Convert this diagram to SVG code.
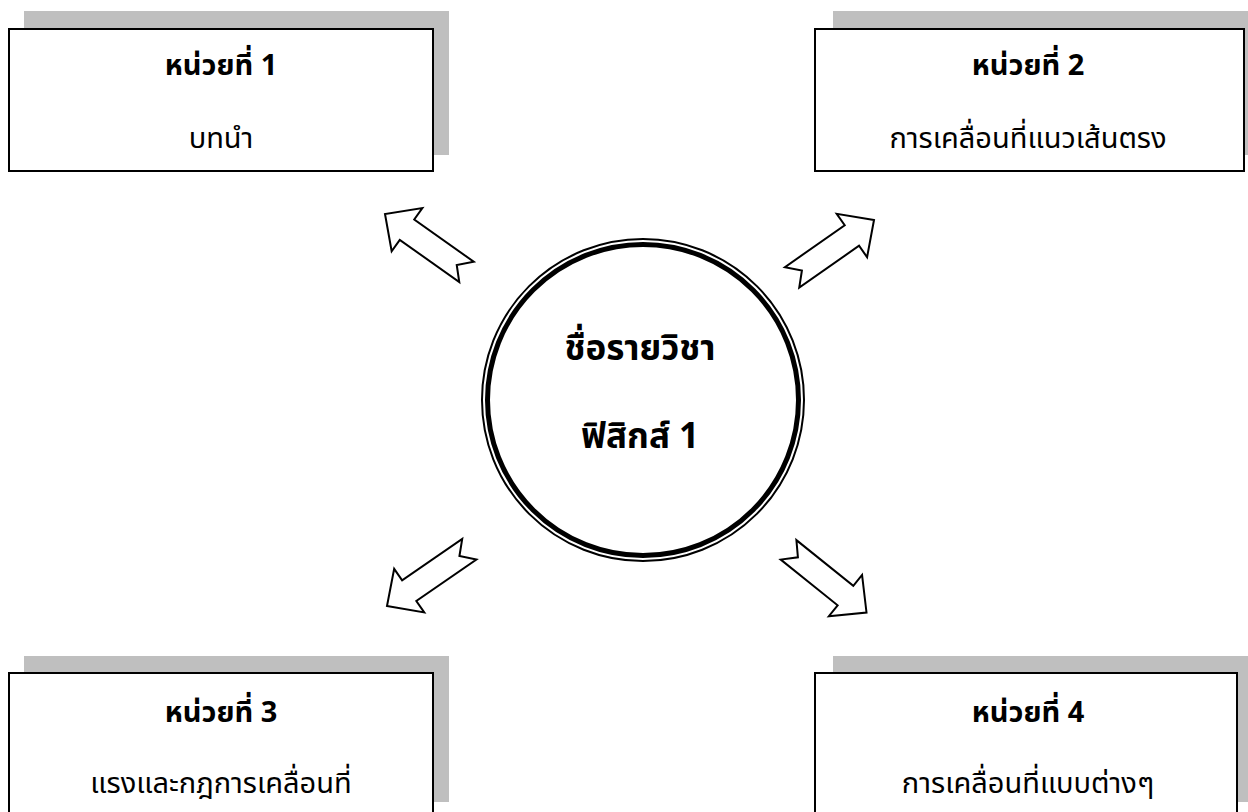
<svg xmlns="http://www.w3.org/2000/svg" xmlns:xlink="http://www.w3.org/1999/xlink" width="1248" height="812" viewBox="0 0 1248 812">
<style>
.shadow{fill:#bfbfbf;stroke:none}
.box{fill:#ffffff;stroke:#000000;stroke-width:2}
.t{font-family:"Noto Sans Thai","Noto Sans","Liberation Sans",sans-serif;fill:#000;text-anchor:middle}
.title{font-size:29px;font-weight:bold}
.sub{font-size:29px}
.ctr{font-size:35px;font-weight:bold}
.arw{fill:#ffffff;stroke:#000000;stroke-width:2;stroke-linejoin:miter}
</style>
<defs>
<path id="arrow" d="M0,0 L-27,-26.5 L-27,-12.5 L-100,-12.5 L-88,0 L-100,12.5 L-27,12.5 L-27,26.5 Z"/>
</defs>
<rect width="1248" height="812" fill="#ffffff"/>
<g id="unit1">
<rect class="shadow" x="24" y="11" width="425" height="144"/>
<rect class="box" x="9" y="29" width="424" height="142"/>
<text class="t title" x="221" y="75">หน่วยที่ 1</text>
<text class="t sub" x="221" y="148">บทนำ</text>
</g>
<g id="unit2">
<rect class="shadow" x="833" y="11" width="430" height="144"/>
<rect class="box" x="815" y="29" width="429" height="142"/>
<text class="t title" x="1028" y="75">หน่วยที่ 2</text>
<text class="t sub" x="1028" y="148">การเคลื่อนที่แนวเส้นตรง</text>
</g>
<g id="unit3">
<rect class="shadow" x="24" y="656" width="425" height="146"/>
<rect class="box" x="9" y="673" width="424" height="160"/>
<text class="t title" x="221" y="722">หน่วยที่ 3</text>
<text class="t sub" x="221" y="793">แรงและกฎการเคลื่อนที่</text>
</g>
<g id="unit4">
<rect class="shadow" x="833" y="656" width="430" height="146"/>
<rect class="box" x="815" y="673" width="422" height="160"/>
<text class="t title" x="1028" y="722">หน่วยที่ 4</text>
<text class="t sub" x="1028" y="793">การเคลื่อนที่แบบต่างๆ</text>
</g>
<g id="center">
<circle cx="643" cy="400" r="161" fill="#ffffff" stroke="#000" stroke-width="2"/>
<circle cx="643" cy="400" r="155.5" fill="none" stroke="#000" stroke-width="5"/>
<text class="t ctr" x="640" y="360">ชื่อรายวิชา</text>
<text class="t ctr" x="640" y="448">ฟิสิกส์ 1</text>
</g>
<g id="connectors">
<use xlink:href="#arrow" class="arw" transform="translate(385,214) rotate(215.4)"/>
<use xlink:href="#arrow" class="arw" transform="translate(874,220) rotate(-35)"/>
<use xlink:href="#arrow" class="arw" transform="translate(387,606) rotate(145.4)"/>
<use xlink:href="#arrow" class="arw" transform="translate(866.5,612.5) rotate(38.8)"/>
</g>
</svg>
